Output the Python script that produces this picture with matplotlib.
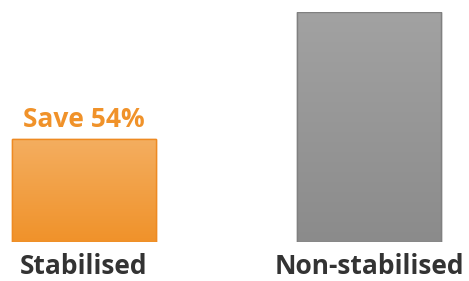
import matplotlib
matplotlib.use("Agg")
import matplotlib.pyplot as plt
import numpy as np
from matplotlib.colors import LinearSegmentedColormap

categories = ["Stabilised", "Non-stabilised"]
values = [45, 100]
annotation = "Save 54%"
top_colors = ["#F4AE60", "#A2A2A2"]
bottom_colors = ["#F0922A", "#8B8B8B"]
edge_colors = ["#EE8A22", "#808080"]

W, H = 469, 281
fig = plt.figure(figsize=(W / 100, H / 100), dpi=100)
ax = fig.add_axes([0, 39 / H, 1, 230 / H])
ax.set_xlim(-84 / 285, 1 + 100 / 285)
ax.set_ylim(0, 100)
ax.axis("off")

x = np.arange(len(categories))
bars = ax.bar(x, values, width=144 / 285, color=bottom_colors, edgecolor=edge_colors, linewidth=1, zorder=2)

for i, b in enumerate(bars):
    cmap = LinearSegmentedColormap.from_list(f"g{i}", [bottom_colors[i], top_colors[i]])
    grad = np.linspace(0, 1, 256).reshape(-1, 1)
    x0, y0 = b.get_x(), b.get_y()
    w, h = b.get_width(), b.get_height()
    im = ax.imshow(grad, cmap=cmap, aspect="auto", origin="lower",
                   extent=[x0, x0 + w, y0, y0 + h], zorder=3)
    im.set_clip_path(b)
    ax.bar(x[i], values[i], width=w, fill=False, edgecolor=edge_colors[i], linewidth=1, zorder=4)
    ax.text(x[i], -13.9, categories[i], ha="center", va="baseline", fontsize=19,
            fontfamily="Open Sans", fontweight="bold", color="#333333", clip_on=False)

ax.text(x[0], values[0] + 4.8, annotation, ha="center", va="baseline", fontsize=19,
        fontfamily="Open Sans", fontweight="bold", color="#F0922A", clip_on=False)

ax.set_xlim(-84 / 285, 1 + 100 / 285)
ax.set_ylim(0, 100)
fig.savefig("out.png", dpi=100)
